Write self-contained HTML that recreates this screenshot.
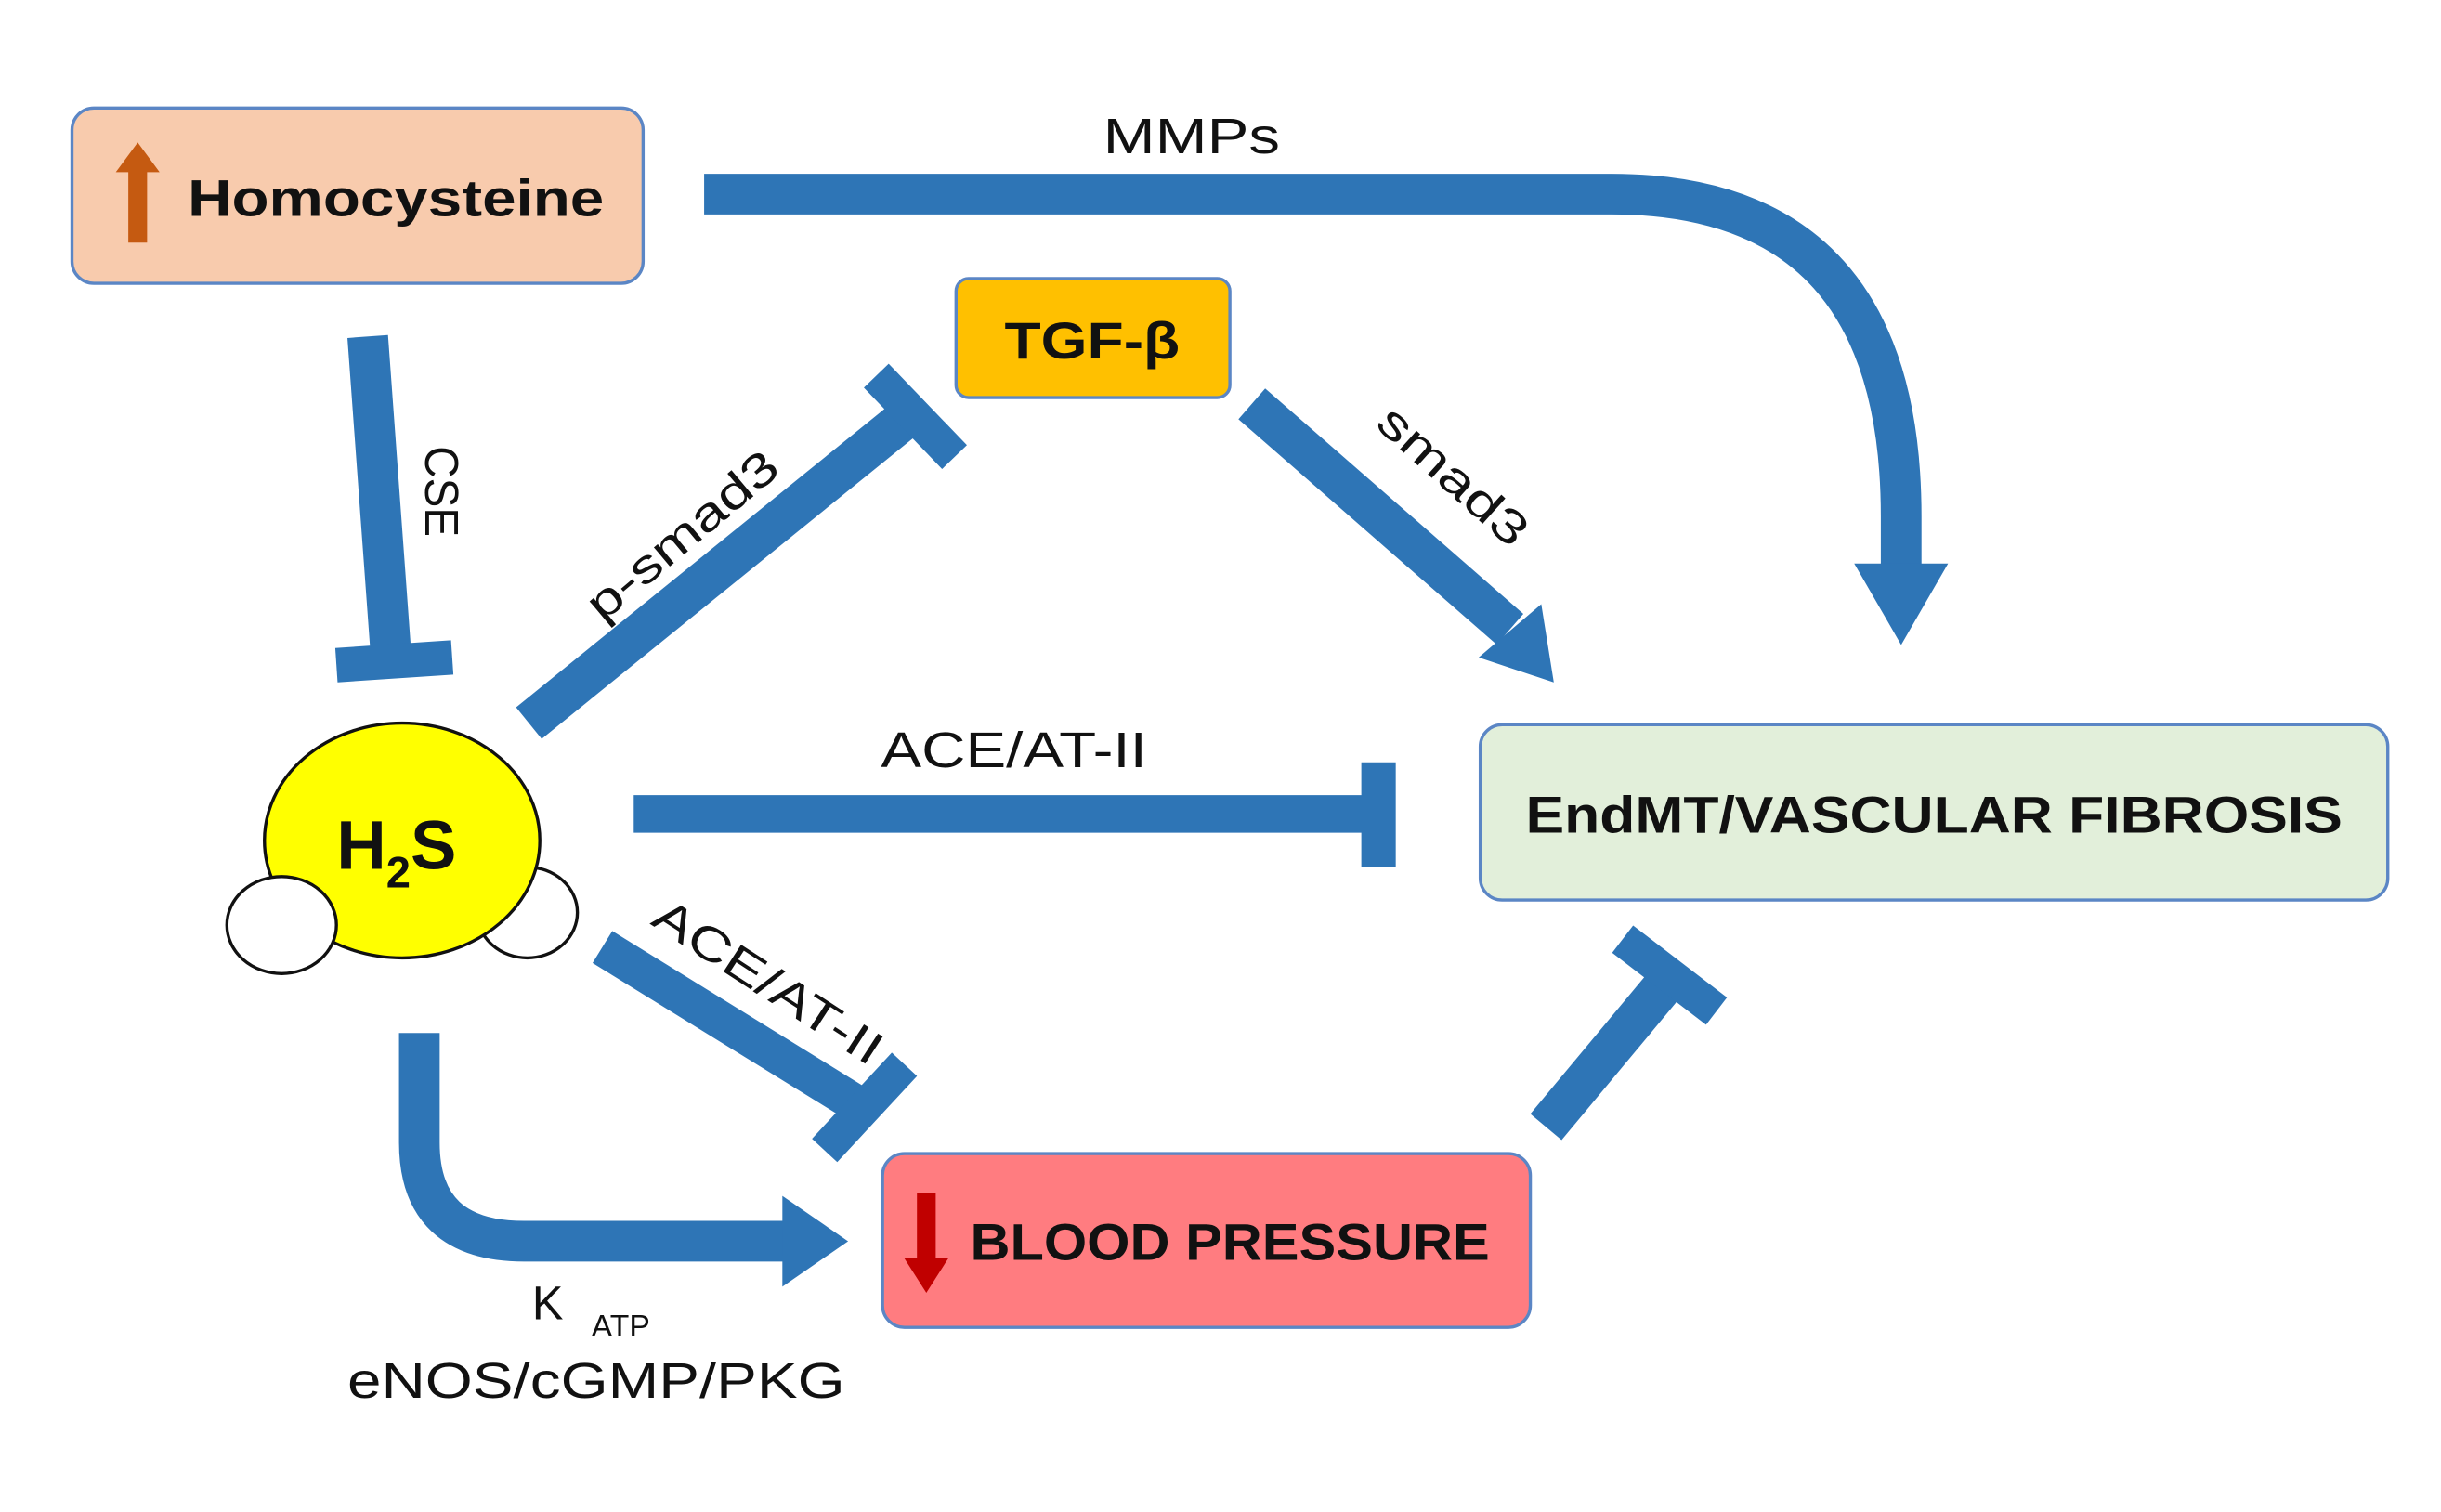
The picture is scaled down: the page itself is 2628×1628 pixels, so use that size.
<!DOCTYPE html>
<html><head><meta charset="utf-8"><style>html,body{margin:0;padding:0;background:#fff}svg{display:block}</style></head>
<body>
<svg width="2628" height="1628" viewBox="0 0 1560 966" preserveAspectRatio="none" xmlns="http://www.w3.org/2000/svg" font-family="Liberation Sans, sans-serif">
<rect width="1560" height="966" fill="#fff"/>
<g fill="none" stroke="#2e75b6">
<path d="M450 124 H1030 Q1215 124 1215 330 V362" stroke-width="26"/>
<line x1="235" y1="215" x2="250" y2="420" stroke-width="26"/>
<line x1="215" y1="425" x2="289" y2="420" stroke-width="22"/>
<line x1="338" y1="462" x2="585" y2="262" stroke-width="26"/>
<line x1="560" y1="240" x2="610" y2="292" stroke-width="22"/>
<line x1="800" y1="258" x2="965" y2="402" stroke-width="26"/>
<line x1="405" y1="520" x2="882" y2="520" stroke-width="24"/>
<line x1="881" y1="487" x2="881" y2="554" stroke-width="22"/>
<line x1="385" y1="605" x2="555" y2="710" stroke-width="24"/>
<line x1="527" y1="735" x2="578" y2="680" stroke-width="22"/>
<path d="M268 660 V730 Q268 793 335 793 H505" stroke-width="26"/>
<line x1="988" y1="720" x2="1068" y2="624" stroke-width="26"/>
<line x1="1037" y1="600" x2="1097" y2="646" stroke-width="22"/>
</g>
<g fill="#2e75b6">
<polygon points="1185,360 1245,360 1215,412"/>
<polygon points="945,420 985,386 993,436"/>
<polygon points="500,764 500,822 542,793"/>
</g>
<rect x="46" y="69" width="365" height="112" rx="14" fill="#f8cbad" stroke="#5b86c5" stroke-width="2"/>
<polygon points="88,91 102,110 94,110 94,155 82,155 82,110 74,110" fill="#c55a11"/>
<text x="120" y="138" font-size="33" font-weight="bold" fill="#111" textLength="266" lengthAdjust="spacingAndGlyphs">Homocysteine</text>
<rect x="611" y="178" width="175" height="76" rx="8" fill="#ffc000" stroke="#5b86c5" stroke-width="2"/>
<text x="698" y="229" font-size="33" font-weight="bold" fill="#111" text-anchor="middle" textLength="112" lengthAdjust="spacingAndGlyphs">TGF-β</text>
<rect x="946" y="463" width="580" height="112" rx="14" fill="#e2efda" stroke="#5b86c5" stroke-width="2"/>
<text x="1236" y="532" font-size="33" font-weight="bold" fill="#111" text-anchor="middle" textLength="522" lengthAdjust="spacingAndGlyphs">EndMT/VASCULAR FIBROSIS</text>
<rect x="564" y="737" width="414" height="111" rx="14" fill="#ff7c80" stroke="#5b86c5" stroke-width="2"/>
<polygon points="592,826 606,804 598,804 598,762 586,762 586,804 578,804" fill="#c00000"/>
<text x="620" y="805" font-size="33" font-weight="bold" fill="#111" textLength="332" lengthAdjust="spacingAndGlyphs">BLOOD PRESSURE</text>
<ellipse cx="337" cy="583" rx="32" ry="29" fill="#fff" stroke="#111" stroke-width="2"/>
<ellipse cx="257" cy="537" rx="88" ry="75" fill="#ffff00" stroke="#111" stroke-width="2"/>
<ellipse cx="180" cy="591" rx="35" ry="31" fill="#fff" stroke="#111" stroke-width="2"/>
<text x="215" y="555" font-size="44" font-weight="bold" fill="#111">H<tspan font-size="28" dy="12">2</tspan><tspan dy="-12">S</tspan></text>
<g font-size="32" fill="#111">
<text x="705" y="98" textLength="113" lengthAdjust="spacingAndGlyphs">MMPs</text>
<text x="563" y="490" textLength="170" lengthAdjust="spacingAndGlyphs">ACE/AT-II</text>
<text transform="translate(272,285) rotate(90)" font-size="30" textLength="58" lengthAdjust="spacingAndGlyphs">CSE</text>
<text transform="translate(385,398) rotate(-40)" font-size="30" textLength="150" lengthAdjust="spacingAndGlyphs">p-smad3</text>
<text transform="translate(878,272) rotate(42)" font-size="30" textLength="118" lengthAdjust="spacingAndGlyphs">smad3</text>
<text transform="translate(415,590) rotate(33)" font-size="30" textLength="168" lengthAdjust="spacingAndGlyphs">ACE/AT-II</text>
<text x="340" y="843" font-size="30">K</text>
<text x="378" y="854" font-size="20">ATP</text>
<text x="222" y="893" textLength="318" lengthAdjust="spacingAndGlyphs">eNOS/cGMP/PKG</text>
</g>
</svg>
</body></html>
